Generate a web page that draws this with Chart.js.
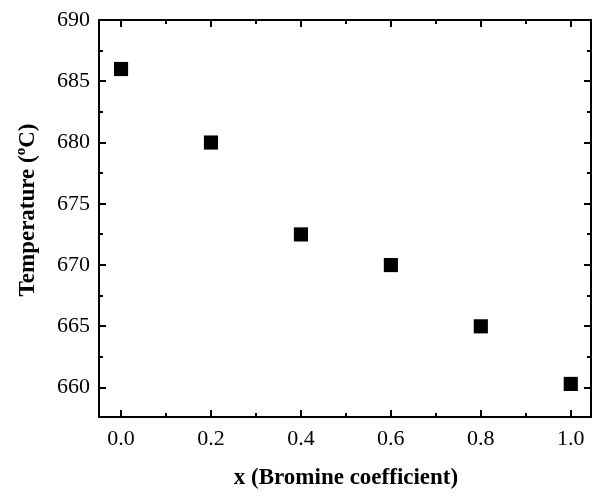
<!DOCTYPE html>
<html><head><meta charset="utf-8">
<script src="https://cdn.jsdelivr.net/npm/chart.js@4"></script>
<style>html,body{margin:0;padding:0;background:#fff}#wrap{width:593px;height:496px}</style>
</head><body><div id="wrap"><canvas id="c" width="593" height="496"></canvas></div>
<script>
const xValues = [0.0, 0.2, 0.4, 0.6, 0.8, 1.0];
const temperatures = [686, 680, 672.5, 670, 665, 660.3];
const xTicks = [0.0, 0.2, 0.4, 0.6, 0.8, 1.0];
const yTicks = [660, 665, 670, 675, 680, 685, 690];
const xTitle = 'x (Bromine coefficient)';
const yTitleMain = 'Temperature (';
const yTitleSup = 'o';
const yTitleEnd = 'C)';

const FONT = '"Liberation Serif","Times New Roman",serif';

const framePlugin = {
  id: 'frame',
  afterDraw(chart) {
    const {ctx, chartArea: a, scales: {x, y}} = chart;
    ctx.save();
    ctx.strokeStyle = '#000';
    ctx.lineWidth = 2;
    ctx.strokeRect(a.left, a.top, a.right - a.left, a.bottom - a.top);
    ctx.beginPath();
    for (let v = 0; v <= 10; v++) {
      const val = v / 10;
      const px = Math.round(x.getPixelForValue(val));
      const len = (v % 2 === 0) ? 7 : 4;
      ctx.moveTo(px, a.bottom); ctx.lineTo(px, a.bottom - len);
      ctx.moveTo(px, a.top); ctx.lineTo(px, a.top + len);
    }
    for (let v = 660; v <= 690; v += 2.5) {
      const py = Math.round(y.getPixelForValue(v));
      const len = (v % 5 === 0) ? 7 : 4;
      ctx.moveTo(a.left, py); ctx.lineTo(a.left + len, py);
      ctx.moveTo(a.right, py); ctx.lineTo(a.right - len, py);
    }
    ctx.stroke();
    ctx.fillStyle = '#000';
    ctx.font = 'bold 23px ' + FONT;
    ctx.textAlign = 'center';
    ctx.textBaseline = 'alphabetic';
    ctx.fillText(xTitle, 346, 484);
    ctx.translate(34, 210);
    ctx.rotate(-Math.PI / 2);
    ctx.font = 'bold 23px ' + FONT;
    const w1 = ctx.measureText(yTitleMain).width;
    ctx.font = 'bold 15px ' + FONT;
    const w2 = ctx.measureText(yTitleSup).width;
    ctx.font = 'bold 23px ' + FONT;
    const w3 = ctx.measureText(yTitleEnd).width;
    let sx = -(w1 + w2 + w3) / 2;
    ctx.textAlign = 'left';
    ctx.fillText(yTitleMain, sx, 0); sx += w1;
    ctx.font = 'bold 15px ' + FONT;
    ctx.fillText(yTitleSup, sx, -9); sx += w2;
    ctx.font = 'bold 23px ' + FONT;
    ctx.fillText(yTitleEnd, sx, 0);
    ctx.restore();
  }
};

new Chart(document.getElementById('c'), {
  type: 'scatter',
  data: {
    datasets: [{
      data: xValues.map((v, i) => ({x: v, y: temperatures[i]})),
      pointStyle: 'rect',
      pointRadius: 10,
      pointHoverRadius: 10,
      backgroundColor: '#000',
      borderColor: '#000',
      borderWidth: 0
    }]
  },
  options: {
    responsive: false,
    animation: false,
    devicePixelRatio: 1,
    layout: {autoPadding: false, padding: {top: 20, right: 2, left: 0, bottom: 0}},
    plugins: {legend: {display: false}, tooltip: {enabled: false}},
    scales: {
      x: {
        type: 'linear', min: -0.049, max: 1.045,
        afterBuildTicks: s => { s.ticks = xTicks.map(v => ({value: v})); },
        afterFit: s => { s.height = 79; s.paddingLeft = 0; s.paddingRight = 0; },
        grid: {display: false, drawTicks: false},
        border: {display: false},
        ticks: {
          padding: 9, color: '#000',
          font: {family: FONT, size: 22},
          callback: v => Number(v).toFixed(1),
          maxRotation: 0
        }
      },
      y: {
        type: 'linear', min: 657.6, max: 690,
        afterBuildTicks: s => { s.ticks = yTicks.map(v => ({value: v})); },
        afterFit: s => { s.width = 99; s.paddingTop = 0; s.paddingBottom = 0; },
        grid: {display: false, drawTicks: false},
        border: {display: false},
        ticks: {
          padding: 9, color: '#000',
          font: {family: FONT, size: 22},
          callback: v => String(v)
        }
      }
    }
  },
  plugins: [framePlugin]
});
</script>
</body></html>
